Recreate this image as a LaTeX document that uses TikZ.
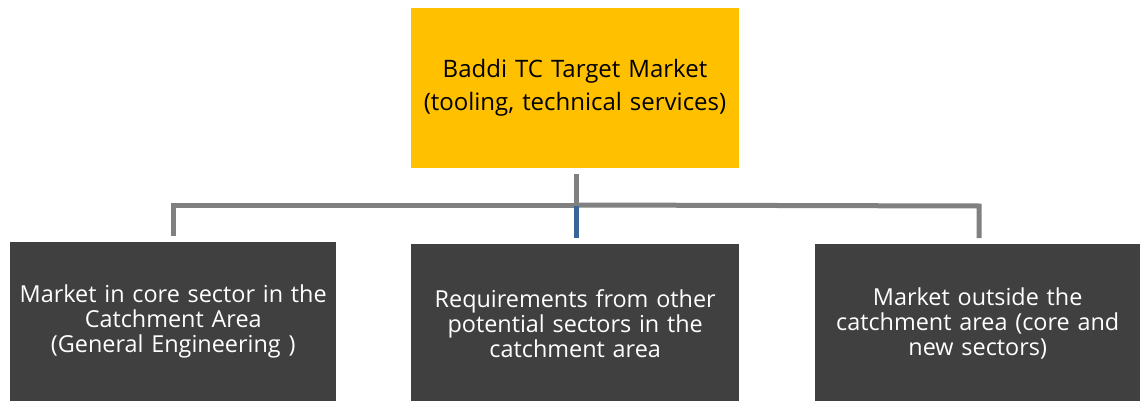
\documentclass[tikz,border=0pt]{standalone}
\usepackage{fontspec}
\setmainfont{Open Sans}
\definecolor{topfill}{HTML}{FFC000}
\definecolor{boxfill}{HTML}{404040}
\definecolor{linkgray}{HTML}{808080}
\definecolor{linkblue}{HTML}{3A6598}
\begin{document}
\begin{tikzpicture}[x=1pt,y=-1pt,
  topbox/.style={fill=topfill,draw=none,minimum width=328pt,minimum height=160pt,
    align=center,text width=324pt,font=\fontsize{24}{33}\selectfont,inner sep=0pt},
  lowbox/.style={fill=boxfill,draw=none,minimum width=326pt,minimum height=159pt,
    align=center,text width=322pt,text=white,font=\fontsize{23.4}{25}\selectfont,inner sep=0pt},
  link/.style={draw=linkgray,line width=5pt},
  bluelink/.style={draw=linkblue,line width=5pt}]
\useasboundingbox (0,0) rectangle (1140,401);
\node[topbox] (top) at (575,88) {Baddi TC Target Market\\(tooling, technical services)};
\node[lowbox,anchor=north west] (left) at (10,242) {Market in core sector in the\\Catchment Area\\(General Engineering )};
\node[lowbox,anchor=north west,minimum width=328pt] (mid) at (411,244) {Requirements from other\\potential sectors in the\\catchment area};
\node[lowbox,anchor=north west,minimum width=325pt] (right) at (815,244) {Market outside the\\catchment area (core and\\new sectors)};
% gaps of 6pt are left between the connectors and the boxes
\coordinate (hub) at (576,205);
\draw[link] ([yshift=-6pt]top.south -| hub) -- (hub);
\draw[link] (hub) -- (173,205) -- ([yshift=6pt]left.north -| 173,0);
\draw[link] (hub) -- (979,206) -- ([yshift=6pt]right.north -| 979,0);
\draw[bluelink] (576,206) -- ([yshift=6pt]mid.north -| hub);
\end{tikzpicture}
\end{document}
